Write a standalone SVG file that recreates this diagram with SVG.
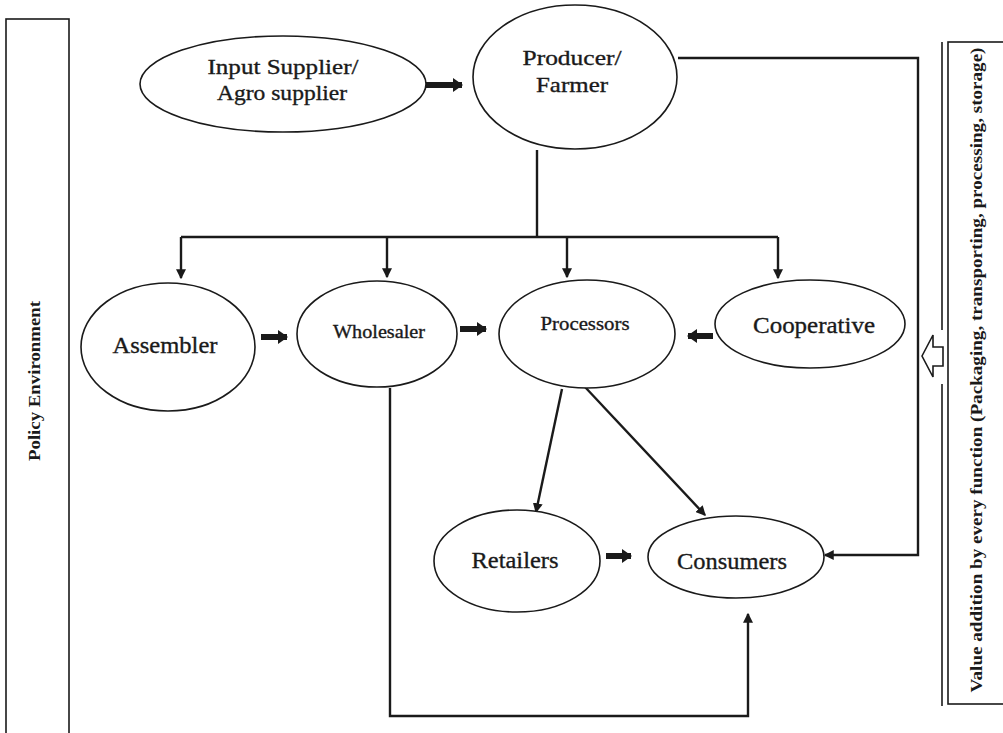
<svg xmlns="http://www.w3.org/2000/svg" width="1003" height="733" viewBox="0 0 1003 733">
<style>
.n{fill:#fff;stroke:#1a1a1a;stroke-width:1.6}
.t{font-family:"Liberation Serif","Times New Roman",serif;fill:#1a1a1a;stroke:#1a1a1a;stroke-width:0.35;text-anchor:middle}
.v{font-family:"Liberation Serif","Times New Roman",serif;font-weight:bold;fill:#1a1a1a;text-anchor:middle}
.c{fill:none;stroke:#1a1a1a;stroke-width:2.4}
.k{fill:none;stroke:#1a1a1a;stroke-width:6}
.b{fill:#fff;stroke:#1a1a1a;stroke-width:1.6}
</style>
<defs>
<marker id="a" markerWidth="10" markerHeight="10" refX="7" refY="4" orient="auto" markerUnits="userSpaceOnUse" viewBox="0 0 8 8"><path d="M0,0 L8,4 L0,8 Z" fill="#1a1a1a"/></marker>
<marker id="ak" markerWidth="12" markerHeight="14" refX="9" refY="7" orient="auto" markerUnits="userSpaceOnUse" viewBox="0 0 10 14"><path d="M0,0 L10,7 L0,14 Z" fill="#1a1a1a"/></marker>
</defs>
<rect width="1003" height="733" fill="#fff"/>
<g id="policy">
<rect class="b" x="6" y="19" width="63" height="730"/>
<text class="v" font-size="16" transform="translate(40,381) rotate(-90)" textLength="160" lengthAdjust="spacingAndGlyphs">Policy Environment</text>
</g>
<g id="value">
<rect class="b" x="948" y="42" width="70" height="662"/>
<line x1="942" y1="42" x2="942" y2="330" stroke="#1a1a1a" stroke-width="1.6"/>
<line x1="942" y1="384" x2="942" y2="706" stroke="#1a1a1a" stroke-width="1.6"/>
<path class="b" d="M922,356 L933,335 L933,347 L943,347 L943,366 L933,366 L933,377 Z"/>
<text class="v" font-size="17" transform="translate(982,370) rotate(-90)" textLength="645" lengthAdjust="spacingAndGlyphs">Value addition by every function (Packaging, transporting, processing, storage)</text>
</g>
<g id="connectors">
<line class="k" x1="426" y1="85" x2="462" y2="85" marker-end="url(#ak)"/>
<polyline class="c" points="537,150 537,237"/>
<polyline class="c" points="181,237 778,237"/>
<line class="c" x1="181" y1="237" x2="181" y2="278" marker-end="url(#a)"/>
<line class="c" x1="387" y1="237" x2="387" y2="277" marker-end="url(#a)"/>
<line class="c" x1="567" y1="237" x2="567" y2="277" marker-end="url(#a)"/>
<line class="c" x1="778" y1="237" x2="778" y2="278" marker-end="url(#a)"/>
<line class="k" x1="261" y1="337" x2="287" y2="337" marker-end="url(#ak)"/>
<line class="k" x1="460" y1="329" x2="486" y2="329" marker-end="url(#ak)"/>
<line class="k" x1="713" y1="336" x2="688" y2="336" marker-end="url(#ak)"/>
<line class="k" x1="606" y1="556" x2="631" y2="556" marker-end="url(#ak)"/>
<line class="c" x1="562" y1="389" x2="536" y2="512" marker-end="url(#a)"/>
<line class="c" x1="585" y1="387" x2="705" y2="515" marker-end="url(#a)"/>
<polyline class="c" points="678,58 918,58 918,555 825,555" marker-end="url(#a)"/>
<polyline class="c" points="390,388 390,716 748,716 748,614" marker-end="url(#a)"/>
</g>
<g id="input"><ellipse class="n" cx="283" cy="84" rx="143" ry="48"/>
<text class="t" font-size="22" x="283" y="74" textLength="151" lengthAdjust="spacingAndGlyphs">Input Supplier/</text><text class="t" font-size="22" x="282" y="100" textLength="130" lengthAdjust="spacingAndGlyphs">Agro supplier</text></g>
<g id="producer"><ellipse class="n" cx="575" cy="77" rx="102" ry="72"/>
<text class="t" font-size="22" x="572" y="65" textLength="99" lengthAdjust="spacingAndGlyphs">Producer/</text><text class="t" font-size="22" x="572" y="92" textLength="72" lengthAdjust="spacingAndGlyphs">Farmer</text></g>
<g id="assembler"><ellipse class="n" cx="168" cy="347" rx="87" ry="64"/>
<text class="t" font-size="24" x="165" y="353" textLength="105" lengthAdjust="spacingAndGlyphs">Assembler</text></g>
<g id="wholesaler"><ellipse class="n" cx="377" cy="334" rx="80" ry="53"/>
<text class="t" font-size="18" x="379" y="338" textLength="92" lengthAdjust="spacingAndGlyphs">Wholesaler</text></g>
<g id="processors"><ellipse class="n" cx="587" cy="334" rx="88" ry="54"/>
<text class="t" font-size="19" x="585" y="330" textLength="89" lengthAdjust="spacingAndGlyphs">Processors</text></g>
<g id="cooperative"><ellipse class="n" cx="810" cy="324" rx="95" ry="44"/>
<text class="t" font-size="24" x="814" y="333" textLength="122" lengthAdjust="spacingAndGlyphs">Cooperative</text></g>
<g id="retailers"><ellipse class="n" cx="517" cy="561" rx="83" ry="51"/>
<text class="t" font-size="24" x="515" y="568" textLength="87" lengthAdjust="spacingAndGlyphs">Retailers</text></g>
<g id="consumers"><ellipse class="n" cx="736" cy="557" rx="88" ry="41"/>
<text class="t" font-size="24" x="732" y="569" textLength="110" lengthAdjust="spacingAndGlyphs">Consumers</text></g>
</svg>
